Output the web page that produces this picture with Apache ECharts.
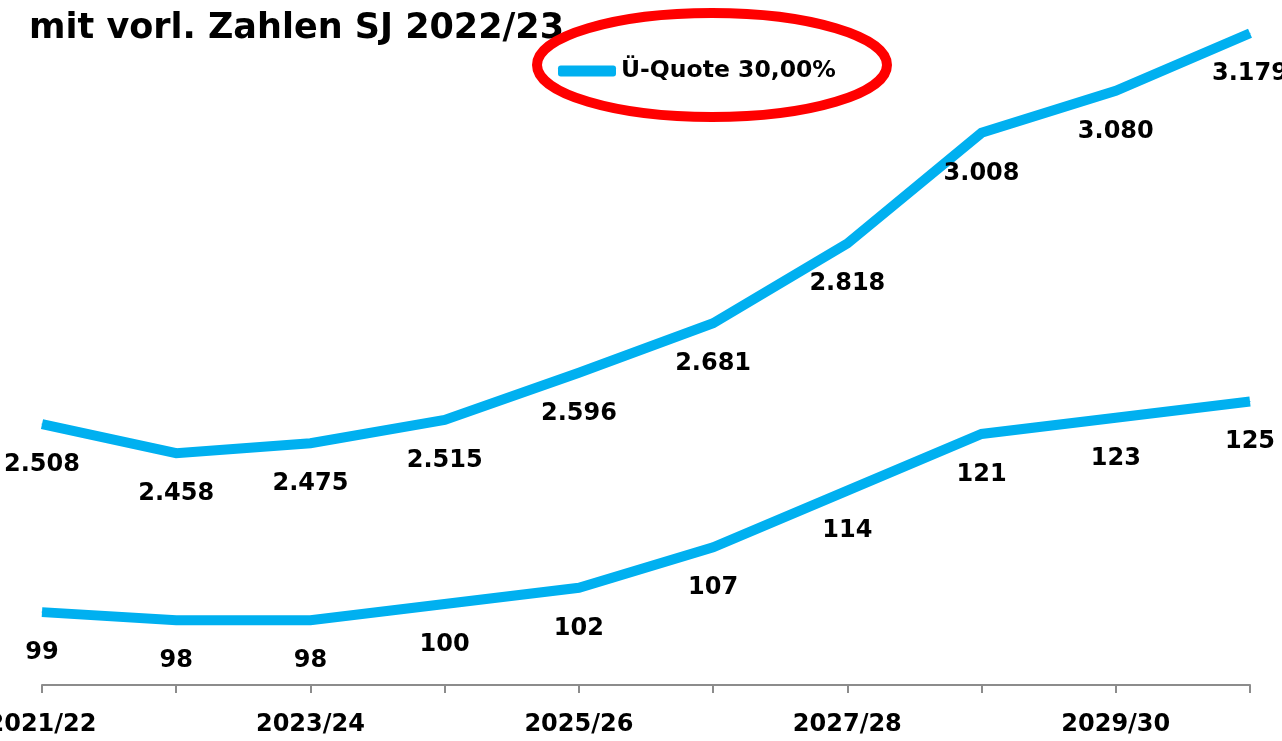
<!DOCTYPE html>
<html>
<head>
<meta charset="utf-8">
<script src="https://cdn.jsdelivr.net/npm/echarts@6/dist/echarts.min.js"></script>
<style>html,body{margin:0;padding:0;background:#fff}#c{width:1282px;height:741px}</style>
</head>
<body>
<div id="c"></div>
<script>
const categories = ['2021/22','2022/23','2023/24','2024/25','2025/26','2026/27','2027/28','2028/29','2029/30','2030/31'];
const seriesName = 'Ü-Quote 30,00%';
const upperValues = [2508, 2458, 2475, 2515, 2596, 2681, 2818, 3008, 3080, 3179];
const lowerValues = [99, 98, 98, 100, 102, 107, 114, 121, 123, 125];
const titleText = 'mit vorl. Zahlen SJ 2022/23';

const FONT = '"DejaVu Sans"';
const BLUE = '#00B0F0';
const fmt = v => String(v).replace(/\B(?=(\d{3})+(?!\d))/g, '.');

const chart = echarts.init(document.getElementById('c'), null, {renderer: 'canvas'});
chart.setOption({
  animation: false,
  backgroundColor: '#fff',
  title: {
    text: titleText, left: 29, top: 11, padding: 0,
    textStyle: {fontFamily: FONT, fontWeight: 'bold', fontSize: 35, color: '#000'}
  },
  legend: {
    data: [seriesName], left: 558, top: 59, padding: 0,
    icon: 'roundRect', itemWidth: 58, itemHeight: 11, itemGap: 0,
    textStyle: {fontFamily: FONT, fontWeight: 'bold', fontSize: 23.5, color: '#000'}
  },
  grid: {left: 42, right: 32, top: 21, bottom: 56, containLabel: false, outerBoundsMode: 'none'},
  xAxis: {
    type: 'category', data: categories, boundaryGap: false,
    axisLine: {lineStyle: {color: '#8c8c8c', width: 2}},
    axisTick: {show: true, interval: 0, length: 8, lineStyle: {color: '#8c8c8c', width: 2}},
    axisLabel: {interval: 1, margin: 28, fontFamily: FONT, fontWeight: 'bold', fontSize: 24, color: '#000', hideOverlap: false},
    splitLine: {show: false}
  },
  yAxis: [
    {type: 'value', min: 2060, max: 3200, show: false, splitLine: {show: false}},
    {type: 'value', min: 90, max: 172, show: false, splitLine: {show: false}}
  ],
  series: [
    {
      name: seriesName, type: 'line', yAxisIndex: 0, data: upperValues,
      symbol: 'circle', symbolSize: 1, itemStyle: {color: BLUE},
      lineStyle: {color: BLUE, width: 10, cap: 'butt', join: 'miter'},
      label: {show: true, position: 'bottom', distance: 28, formatter: p => fmt(p.value),
        fontFamily: FONT, fontWeight: 'bold', fontSize: 24, color: '#000'}
    },
    {
      name: 'Ü-Quote 30,00% (2)', type: 'line', yAxisIndex: 1, data: lowerValues,
      symbol: 'circle', symbolSize: 1, itemStyle: {color: BLUE},
      lineStyle: {color: BLUE, width: 10, cap: 'butt', join: 'miter'},
      label: {show: true, position: 'bottom', distance: 28, formatter: p => fmt(p.value),
        fontFamily: FONT, fontWeight: 'bold', fontSize: 24, color: '#000'}
    }
  ],
  graphic: [{
    type: 'ellipse', z: 100,
    shape: {cx: 712, cy: 65, rx: 175, ry: 52},
    style: {fill: 'none', stroke: '#FF0000', lineWidth: 10}
  }]
});
</script>
</body>
</html>
